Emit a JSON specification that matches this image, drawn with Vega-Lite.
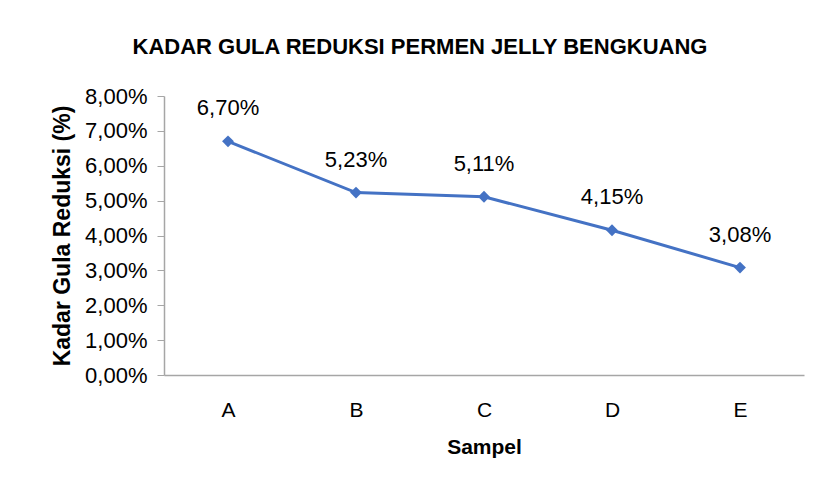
{
  "$schema": "https://vega.github.io/schema/vega-lite/v6.json",
  "width": 640,
  "height": 279,
  "autosize": {"type": "none"},
  "padding": {"left": 164, "top": 96, "right": 14, "bottom": 109},
  "background": "white",
  "title": {
    "text": "KADAR GULA REDUKSI PERMEN JELLY BENGKUANG",
    "font": "Liberation Sans",
    "fontSize": 22,
    "fontWeight": "bold",
    "color": "#000000",
    "anchor": "middle",
    "frame": "group",
    "offset": 26,
    "dx": -64
  },
  "config": {
    "view": {"stroke": null},
    "font": "Liberation Sans",
    "locale": {
      "number": {"decimal": ",", "thousands": ".", "grouping": [3], "currency": ["", " €"], "percent": "%"}
    }
  },
  "data": {
    "values": [
      {"Sampel": "A", "Kadar": 0.0670},
      {"Sampel": "B", "Kadar": 0.0523},
      {"Sampel": "C", "Kadar": 0.0511},
      {"Sampel": "D", "Kadar": 0.0415},
      {"Sampel": "E", "Kadar": 0.0308}
    ]
  },
  "encoding": {
    "x": {
      "field": "Sampel",
      "type": "nominal",
      "scale": {"paddingInner": 0, "paddingOuter": 0.5},
      "axis": {
        "title": "Sampel",
        "labelAngle": 0,
        "labelFontSize": 21,
        "labelColor": "#000000",
        "labelPadding": 24,
        "ticks": false,
        "domainColor": "#a6a6a6",
        "domainWidth": 1.5,
        "grid": false,
        "titleFontSize": 21,
        "titleFontWeight": "bold",
        "titleColor": "#000000",
        "titlePadding": 16
      }
    },
    "y": {
      "field": "Kadar",
      "type": "quantitative",
      "scale": {"domain": [0, 0.08], "nice": false},
      "axis": {
        "title": "Kadar Gula Reduksi (%)",
        "values": [0, 0.01, 0.02, 0.03, 0.04, 0.05, 0.06, 0.07, 0.08],
        "format": ".2%",
        "labelFontSize": 22,
        "labelColor": "#000000",
        "labelPadding": 10,
        "tickSize": 7,
        "tickColor": "#a6a6a6",
        "domainColor": "#a6a6a6",
        "domainWidth": 1.5,
        "grid": false,
        "titleFontSize": 23,
        "titleFontWeight": "bold",
        "titleColor": "#000000",
        "titlePadding": 10
      }
    }
  },
  "layer": [
    {
      "mark": {"type": "line", "color": "#4472C4", "strokeWidth": 3}
    },
    {
      "mark": {"type": "point", "shape": "diamond", "filled": true, "color": "#4472C4", "size": 140, "opacity": 1}
    },
    {
      "mark": {"type": "text", "dy": -33, "fontSize": 22, "color": "#000000"},
      "encoding": {
        "text": {"field": "Kadar", "type": "quantitative", "format": ".2%"}
      }
    }
  ]
}
